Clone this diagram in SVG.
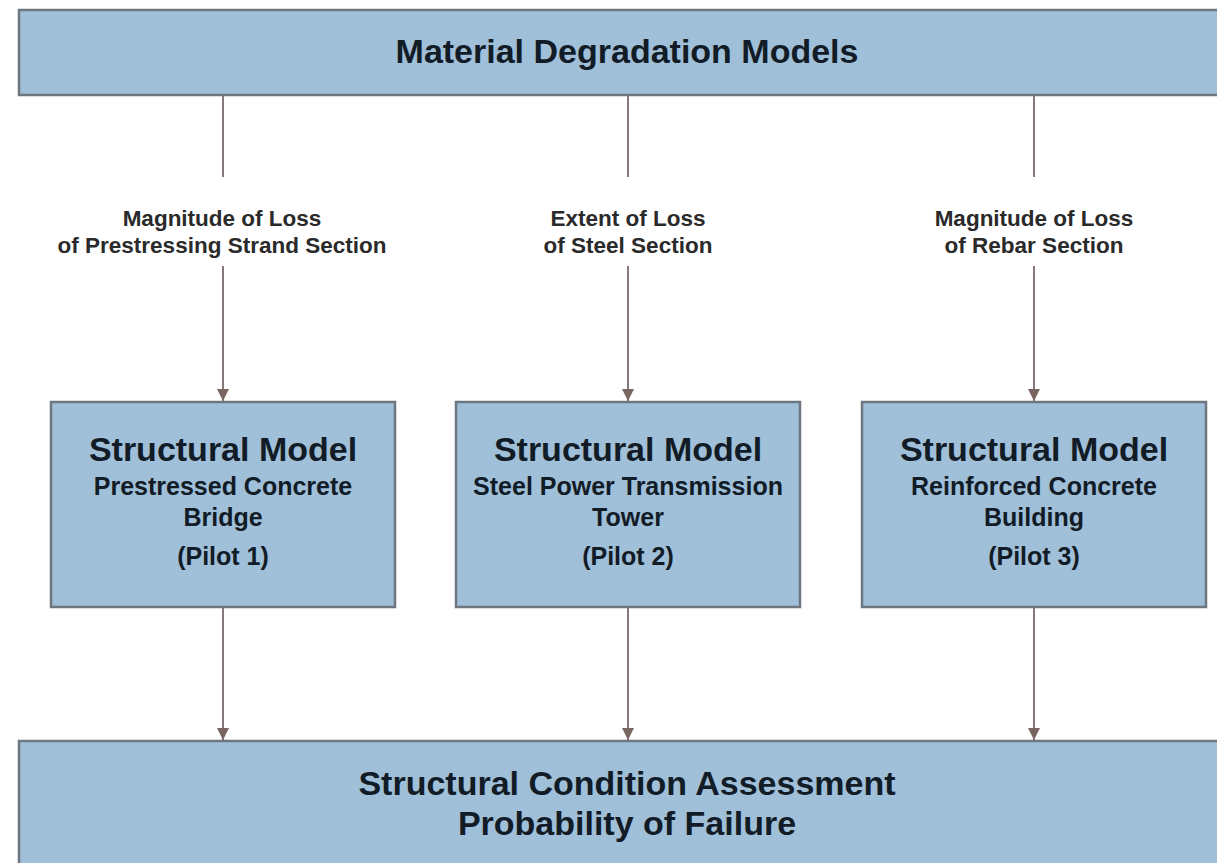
<svg xmlns="http://www.w3.org/2000/svg" width="1217" height="863" viewBox="0 0 1217 863">
<style>
.box{fill:#a0bfd9;stroke:#6e7780;stroke-width:2.5}
.t{font-family:"Liberation Sans",Arial,sans-serif;font-weight:bold;fill:#121c27;text-anchor:middle}
.big{font-size:34px}
.sub{font-size:25px}
.lbl{font-family:"Liberation Sans",Arial,sans-serif;font-weight:bold;fill:#2a2a2a;text-anchor:middle;font-size:22.5px}
.c{stroke:#857a77;stroke-width:2;fill:none}
</style>
<defs>
<marker id="ah" viewBox="0 0 10 10" refX="10" refY="5" markerWidth="6" markerHeight="6" orient="auto" markerUnits="strokeWidth">
<path d="M0,0 L10,5 L0,10 z" fill="#7a6660"/>
</marker>
</defs>
<rect width="1217" height="863" fill="#ffffff"/>
<g id="connectors">
<line class="c" x1="223" y1="96" x2="223" y2="177"/>
<line class="c" x1="223" y1="266" x2="223" y2="401" marker-end="url(#ah)"/>
<line class="c" x1="628" y1="96" x2="628" y2="177"/>
<line class="c" x1="628" y1="266" x2="628" y2="401" marker-end="url(#ah)"/>
<line class="c" x1="1034" y1="96" x2="1034" y2="177"/>
<line class="c" x1="1034" y1="266" x2="1034" y2="401" marker-end="url(#ah)"/>
<line class="c" x1="223" y1="607" x2="223" y2="740" marker-end="url(#ah)"/>
<line class="c" x1="628" y1="607" x2="628" y2="740" marker-end="url(#ah)"/>
<line class="c" x1="1034" y1="607" x2="1034" y2="740" marker-end="url(#ah)"/>
<text class="lbl" x="222" y="226">Magnitude of Loss</text>
<text class="lbl" x="222" y="253">of Prestressing Strand Section</text>
<text class="lbl" x="628" y="226">Extent of Loss</text>
<text class="lbl" x="628" y="253">of Steel Section</text>
<text class="lbl" x="1034" y="226">Magnitude of Loss</text>
<text class="lbl" x="1034" y="253">of Rebar Section</text>
</g>
<g id="node-top">
<rect class="box" x="19" y="10" width="1215" height="85"/>
<text class="t big" x="627" y="63">Material Degradation Models</text>
</g>
<g id="node-pilot1">
<rect class="box" x="51" y="402" width="344" height="205"/>
<text class="t big" x="223" y="461">Structural Model</text>
<text class="t sub" x="223" y="495">Prestressed Concrete</text>
<text class="t sub" x="223" y="526">Bridge</text>
<text class="t sub" x="223" y="565">(Pilot 1)</text>
</g>
<g id="node-pilot2">
<rect class="box" x="456" y="402" width="344" height="205"/>
<text class="t big" x="628" y="461">Structural Model</text>
<text class="t sub" x="628" y="495">Steel Power Transmission</text>
<text class="t sub" x="628" y="526">Tower</text>
<text class="t sub" x="628" y="565">(Pilot 2)</text>
</g>
<g id="node-pilot3">
<rect class="box" x="862" y="402" width="344" height="205"/>
<text class="t big" x="1034" y="461">Structural Model</text>
<text class="t sub" x="1034" y="495">Reinforced Concrete</text>
<text class="t sub" x="1034" y="526">Building</text>
<text class="t sub" x="1034" y="565">(Pilot 3)</text>
</g>
<g id="node-bottom">
<rect class="box" x="19" y="741" width="1215" height="140"/>
<text class="t big" x="627" y="795">Structural Condition Assessment</text>
<text class="t big" x="627" y="835">Probability of Failure</text>
</g>
</svg>
